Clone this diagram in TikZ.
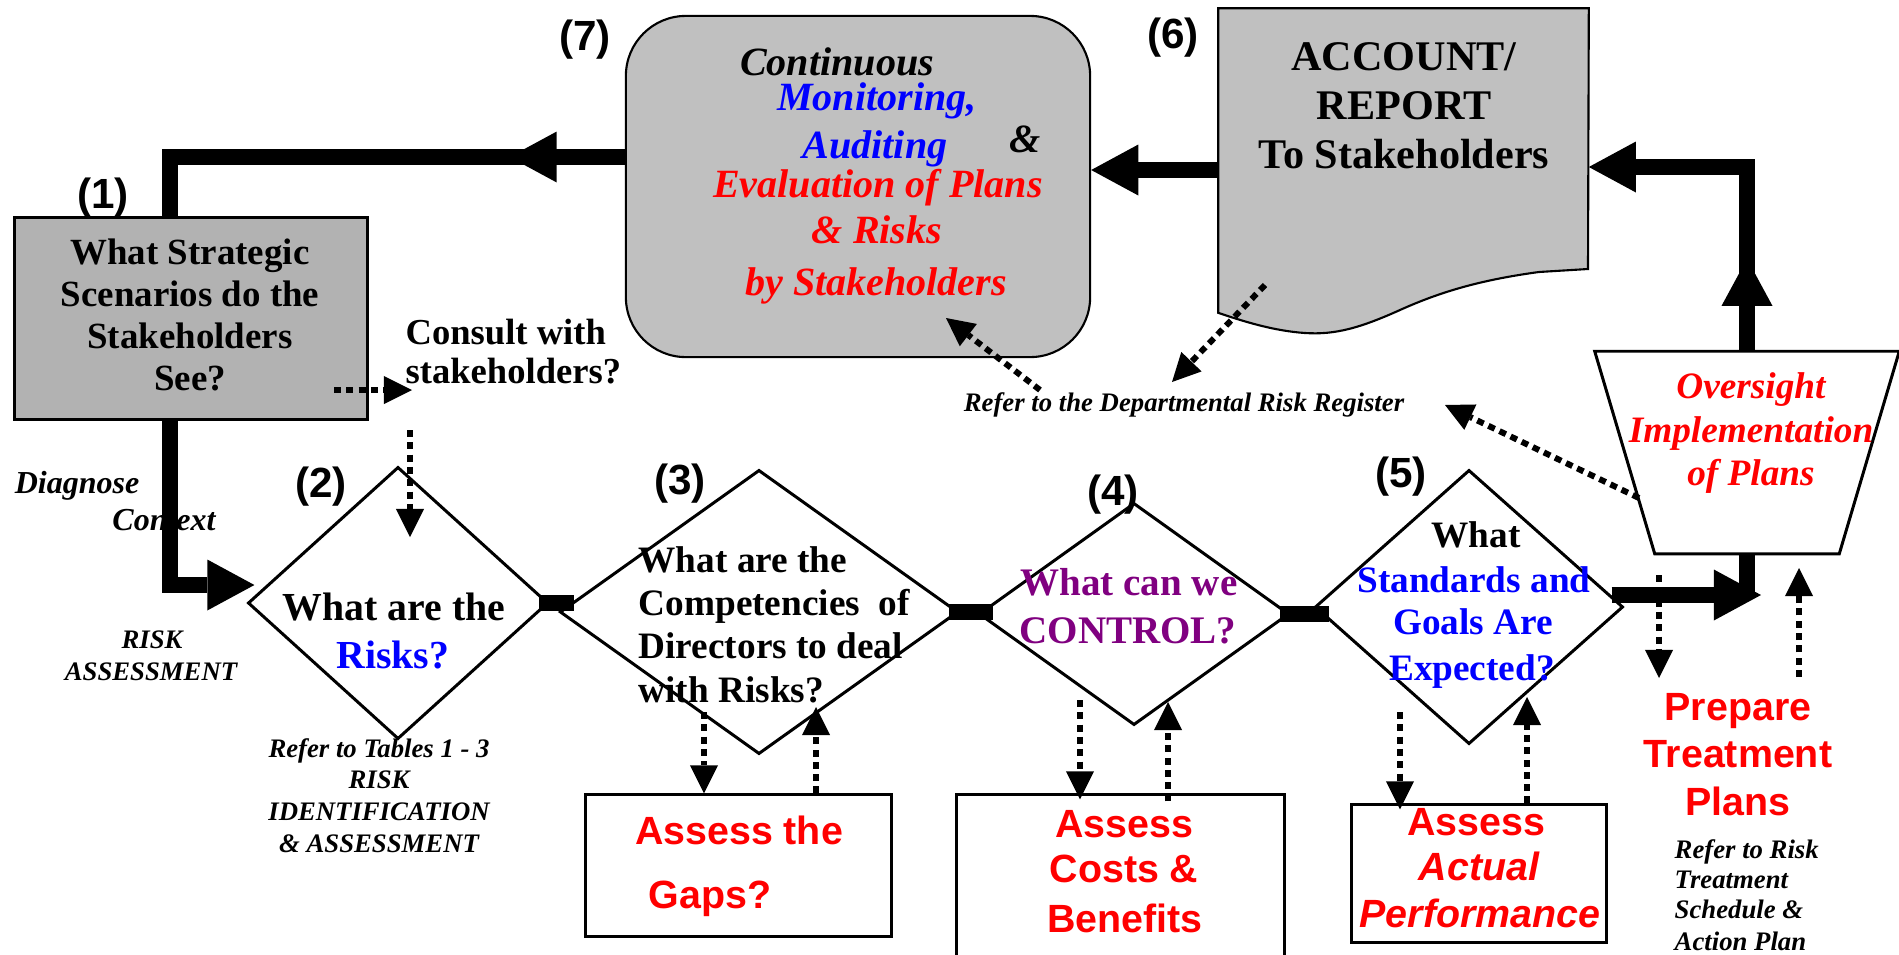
\documentclass[tikz,border=0pt]{standalone}
\usepackage{fontspec}
\setmainfont{Liberation Serif}
\newfontfamily\arl{Liberation Sans}
\usetikzlibrary{arrows.meta,decorations.markings,calc,shapes.geometric}
\definecolor{cblue}{RGB}{0,0,255}
\definecolor{cred}{RGB}{255,0,0}
\definecolor{cpurple}{RGB}{128,0,128}
\definecolor{gboxa}{RGB}{178,178,178}
\definecolor{gboxb}{RGB}{192,192,192}
\newcommand\fsz[1]{\fontsize{#1pt}{#1pt}\selectfont}
\tikzset{
 bigtip/.tip={Triangle[length=13.4pt,width=14.5pt,line width=0pt]},
 smalltip/.tip={Triangle[length=8pt,width=8pt,line width=0pt]},
 thickln/.style={line width=4.3pt},
 barln/.style={line width=4.3pt, shorten <=-3pt, shorten >=-4.5pt},
 dotln/.style={line width=1.7pt, dash pattern=on 2pt off 1.5pt, -smalltip},
 shp/.style={draw, line width=0.85pt, inner sep=0},
 lbl/.style={anchor=base, inner sep=0},
 num/.style={lbl, font=\arl\bfseries\fsz{12}},
 b1t/.style={lbl, font=\bfseries\fsz{10.5}},
 b7t/.style={lbl, font=\bfseries\itshape\fsz{11.4}},
 b6t/.style={lbl, font=\bfseries\fsz{12}},
 d2t/.style={lbl, font=\bfseries\fsz{11.3}},
 d3t/.style={lbl, anchor=base west, font=\bfseries\fsz{10.6}},
 d4t/.style={lbl, font=\bfseries\fsz{11.1}, text=cpurple},
 d5t/.style={lbl, font=\bfseries\fsz{10.6}},
 cst/.style={lbl, anchor=base west, font=\bfseries\fsz{10.4}},
 note/.style={lbl, font=\bfseries\itshape\fsz{7.6}},
 diag/.style={lbl, font=\bfseries\itshape\fsz{9.1}},
 rsans/.style={lbl, font=\arl\bfseries\fsz{11.2}, text=cred},
 ovs/.style={lbl, font=\bfseries\itshape\fsz{10.6}, text=cred},
 midarrow/.style={postaction={decorate}, decoration={markings, mark=at position #1 with {\arrow{Triangle[length=13.4pt,width=14.5pt,line width=0pt]}}}},
}
\begin{document}
\begin{tikzpicture}[x=0.01cm,y=-0.01cm]
\useasboundingbox (0,0) rectangle (1899,954);
\fill[white] (0,0) rectangle (1899,954);

% ---- shapes ----
\node[shp, fill=gboxa, minimum width=3.52cm, minimum height=2.01cm] (b1) at (191,318.5) {};
\node[shp, fill=gboxb, line width=0.6pt, rounded corners=0.6cm, minimum width=4.64cm, minimum height=3.41cm] (b7) at (858,186.5) {};
\node[inner sep=0, minimum width=3.69cm, minimum height=3.03cm] (b6) at (1403.5,160.5) {};
\draw[fill=gboxb, line width=0.6pt] (b6.north west) -- (b6.north east) -- (1588,269) -- (1539,272)
  .. controls (1480,280) and (1440,292) .. (1400,310)
  .. controls (1360,328) and (1335,335) .. (1305,333)
  .. controls (1275,331) and (1245,322) .. (b6.south west) -- cycle;
\node[diamond, shp, minimum width=3cm, minimum height=2.72cm] (d2) at (398,603) {};
\node[diamond, shp, minimum width=3.98cm, minimum height=2.84cm] (d3) at (759,612) {};
\node[diamond, shp, minimum width=3.10cm, minimum height=2.22cm] (d4) at (1134,614) {};
\node[diamond, shp, minimum width=3.08cm, minimum height=2.74cm] (d5) at (1469,607) {};
\node[inner sep=0, minimum width=3.03cm, minimum height=2.01cm] (tp) at (1747,452.5) {};
\draw[line width=0.85pt, fill=white] (tp.north west) -- (tp.north east) -- ($(tp.south east)+(-60,0)$) -- ($(tp.south west)+(60,0)$) -- cycle;
\node[shp, minimum width=3.05cm, minimum height=1.41cm] (g1) at (738.5,865.5) {};
\node[shp, minimum width=3.27cm, minimum height=1.8cm] (g2) at (1120.5,885) {};
\node[shp, minimum width=2.54cm, minimum height=1.37cm] (g3) at (1479,873.5) {};

% ---- numbers ----
\node[num] (n1) at (103,208) {(1)};
\node[num] (n2) at (321,497) {(2)};
\node[num] (n3) at (680,494) {(3)};
\node[num] (n4) at (1113,505) {(4)};
\node[num] (n5) at (1401,487) {(5)};
\node[num] (n6) at (1173,48) {(6)};
\node[num] (n7) at (585,50) {(7)};

% ---- box 1 ----
\node[b1t] (t1a) at (190,264) {What Strategic};
\node[b1t] (t1b) at (190,306) {Scenarios do the};
\node[b1t] (t1c) at (190,348) {Stakeholders};
\node[b1t] (t1d) at (190,390) {See?};

% ---- box 7 ----
\node[b7t] (t7a) at (837,75) {Continuous};
\node[b7t, text=cblue] (t7b) at (877,110) {Monitoring,};
\node[b7t, text=cblue] (t7c) at (875,158) {Auditing};
\node[b7t] (t7d) at (1025,152) {\&};
\node[b7t, text=cred] (t7e) at (878,197) {Evaluation of Plans};
\node[b7t, text=cred] (t7f) at (877,243) {\& Risks};
\node[b7t, text=cred] (t7g) at (876,295) {by Stakeholders};

% ---- box 6 ----
\node[b6t] (t6a) at (1404,70) {ACCOUNT/};
\node[b6t] (t6b) at (1404,119) {REPORT};
\node[b6t] (t6c) at (1404,168) {To Stakeholders};

% ---- diamonds ----
\node[d2t] (t2a) at (394,620) {What are the};
\node[d2t, text=cblue] (t2b) at (393,668) {Risks?};
\node[d3t] (t3a) at (638,572) {What are the};
\node[d3t] (t3b) at (638,615) {Competencies\ \ of};
\node[d3t] (t3c) at (638,658) {Directors to deal};
\node[d3t] (t3d) at (638,702) {with Risks?};
\node[d4t] (t4a) at (1129,595) {What can we};
\node[d4t] (t4b) at (1128,643) {CONTROL?};
\node[d5t] (t5a) at (1476,547) {What};
\node[d5t, text=cblue] (t5b) at (1474,592) {Standards and};
\node[d5t, text=cblue] (t5c) at (1473,634) {Goals Are};
\node[d5t, text=cblue] (t5d) at (1472,680) {Expected?};

% ---- other texts ----
\node[cst] (tc1) at (405,344) {Consult with};
\node[cst] (tc2) at (405,383) {stakeholders?};
\node[diag] (tg1) at (77,493) {Diagnose};
\node[diag] (tg2) at (164,530) {Context};
\node[note] (tr1) at (152,648) {RISK};
\node[note] (tr2) at (151,680) {ASSESSMENT};
\node[note] (tt1) at (379,757) {Refer to Tables 1 - 3};
\node[note] (tt2) at (379,788) {RISK};
\node[note] (tt3) at (379,820) {IDENTIFICATION};
\node[note] (tt4) at (379,852) {\& ASSESSMENT};
\node[note] (treg) at (1184,411) {Refer to the Departmental Risk Register};
\node[note, anchor=base west] (tk1) at (1674,858) {Refer to Risk};
\node[note, anchor=base west] (tk2) at (1674,888) {Treatment};
\node[note, anchor=base west] (tk3) at (1674,918) {Schedule \&};
\node[note, anchor=base west] (tk4) at (1674,950) {Action Plan};
\node[ovs] (to1) at (1751,398) {Oversight};
\node[ovs] (to2) at (1751,442) {Implementation};
\node[ovs] (to3) at (1751,485) {of Plans};
\node[rsans] (ta1) at (739,844) {Assess the};
\node[rsans] (ta2) at (710,908) {Gaps?};
\node[rsans] (tb1) at (1124,837) {Assess};
\node[rsans] (tb2) at (1124,882) {Costs \&};
\node[rsans] (tb3) at (1125,932) {Benefits};
\node[rsans] (tq1) at (1476,835) {Assess};
\node[rsans, font=\arl\bfseries\itshape\fsz{11.2}] (tq2) at (1479,880) {Actual};
\node[rsans, font=\arl\bfseries\itshape\fsz{11.2}] (tq3) at (1480,927) {Performance};
\node[rsans] (tp1) at (1738,720) {Prepare};
\node[rsans] (tp2) at (1738,767) {Treatment};
\node[rsans] (tp3) at (1738,815) {Plans};

% ---- thick connectors ----
\coordinate (j1) at (170,157);
\draw[thickln, midarrow=0.224] (b7.west |- j1) -- (j1) -- (b1.north -| j1);
\coordinate (d2in) at ($(d2.west)+(8,-18)$);
\draw[thickln, -bigtip] (b1.south -| j1) |- (d2in);
\draw[barln] (d2.east) -- (d3.west |- d2.east);
\draw[barln] (d3.east) -- (d4.west |- d3.east);
\draw[barln] (d4.east) -- (d5.west |- d4.east);
\coordinate (d5o) at ($(d5.east)+(-13,-12)$);
\coordinate (tpc) at (tp.south |- d5o);
\draw[thickln, -bigtip] (d5o) -- ($(tpc)+(14,0)$);
\draw[thickln] (tp.south) -- (tpc);
\coordinate (b6e) at ($(b6.east)+(0,6.5)$);
\coordinate (b6w) at ($(b6.west)+(0,9.5)$);
\draw[thickln, midarrow=0.27, -bigtip] (tp.north) |- (b6e);
\draw[thickln, -bigtip] (b6w) -- (b7.east |- b6w);

% ---- dotted connectors ----
\coordinate (a1s) at (334,390);  \coordinate (a1e) at (412,390);
\coordinate (a2s) at (410,430);  \coordinate (a2e) at (410,537);
\coordinate (a3s) at (1040,390); \coordinate (a3e) at (946,318);
\coordinate (a4s) at (1265,285); \coordinate (a4e) at (1172,382);
\coordinate (a5s) at (1639,498); \coordinate (a5e) at (1445,405);
\coordinate (a6s) at (704,712);
\coordinate (a7s) at (816,707);
\coordinate (a8s) at (1080,700);
\coordinate (a9s) at (1168,702);
\coordinate (a10s) at (1400,712);
\coordinate (a11s) at (1527,697);
\coordinate (a12s) at (1659,575); \coordinate (a12e) at (1659,678);
\coordinate (a13s) at (1799,677); \coordinate (a13e) at (1799,568);
\draw[dotln] (a1s) -- (a1e);
\draw[dotln] (a2s) -- (a2e);
\draw[dotln] (a3s) -- (a3e);
\draw[dotln] (a4s) -- (a4e);
\draw[dotln] (a5s) -- (a5e);
\draw[dotln] (a6s) -- (a6s |- g1.north);
\draw[dotln] (a7s |- g1.north) -- (a7s);
\draw[dotln] (a8s) -- ($(a8s |- g2.north)+(0,6)$);
\draw[dotln] ($(a9s |- g2.north)+(0,8)$) -- (a9s);
\draw[dotln] (a10s) -- ($(a10s |- g3.north)+(0,6)$);
\draw[dotln] (a11s |- g3.north) -- (a11s);
\draw[dotln] (a12s) -- (a12e);
\draw[dotln] (a13s) -- (a13e);
\end{tikzpicture}
\end{document}
